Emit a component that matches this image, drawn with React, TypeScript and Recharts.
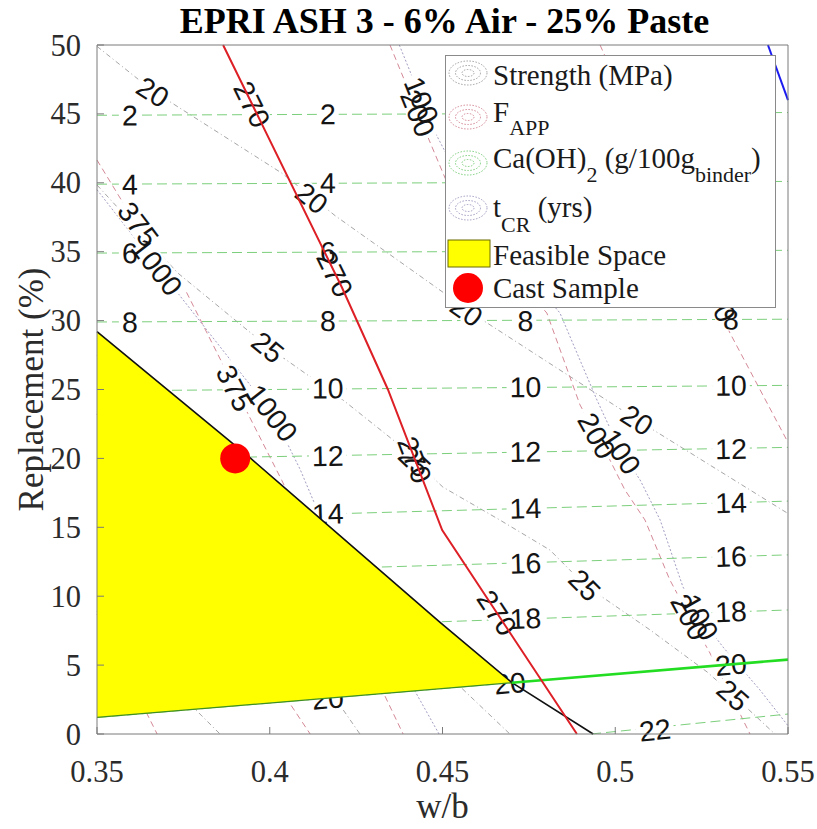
import React from 'react';
import { ComposedChart, Line, Area, Scatter, XAxis, YAxis, Legend } from 'recharts';

type Pt = [number, number];

// ---------------- data ----------------
const xTicks = [0.35, 0.4, 0.45, 0.5, 0.55];
const yTicks = [0, 5, 10, 15, 20, 25, 30, 35, 40, 45, 50];

// Strength (MPa) contours
const strength20: Pt[] = [[0.35, 49.9], [0.366, 46.7], [0.4035, 40.7], [0.419, 37.6], [0.46, 30.3], [0.5063, 22.8], [0.55, 16.0]];
const strength20Labels: Pt[] = [[0.3662, 46.6], [0.4122, 38.9], [0.457, 30.7], [0.5063, 22.8]];
const strength25: Pt[] = [[0.35, 39.84], [0.3734, 33.45], [0.3995, 28.08], [0.4212, 24.24], [0.4357, 21.34], [0.4501, 17.92], [0.4666, 15.53], [0.4811, 13.35], [0.4912, 10.81], [0.5101, 7.55], [0.5266, 4.5], [0.5341, 2.83], [0.5462, 0]];
const strength25Labels: Pt[] = [[0.3995, 28.08], [0.442, 19.8], [0.4912, 10.81], [0.5341, 2.83]];
const strengthLowA: Pt[] = [[0.35, 8.9], [0.3856, 0]];
const strengthLowB: Pt[] = [[0.35, 27.5], [0.4261, 0]];
const strengthLowC: Pt[] = [[0.35, 28.5], [0.4695, 0]];

// F_APP contours
const fapp375: Pt[] = [[0.35, 41.65], [0.3596, 37.7], [0.3746, 32.7], [0.3891, 25.5], [0.4035, 18.4], [0.4386, 0]];
const fapp375Labels: Pt[] = [[0.362, 37.0], [0.3899, 25.1]];
const fapp200: Pt[] = [[0.4348, 50], [0.4449, 43.83], [0.4522, 39.48], [0.4666, 34.4], [0.4802, 30.55], [0.4898, 23.88], [0.497, 20.61], [0.5028, 17.71], [0.5086, 15.53], [0.5158, 11.18], [0.5216, 8.49], [0.5274, 5.88], [0.539, 0]];
const fapp200Labels: Pt[] = [[0.4429, 45.05], [0.4947, 21.65], [0.5216, 8.49]];
const fapp150: Pt[] = [[0.4956, 50], [0.5144, 39.5], [0.5332, 29.1], [0.5497, 21.3]];
const fapp150Labels: Pt[] = [[0.5298, 31.6]];
const fappLowA: Pt[] = [[0.35, 8.7], [0.3674, 0]];
const fappLowB: Pt[] = [[0.35, 23.2], [0.4117, 0]];

// t_CR contours
const tcr1000: Pt[] = [[0.35, 39.5], [0.3674, 33.9], [0.4007, 23.3], [0.4088, 19.2], [0.4174, 14.1], [0.449, 0]];
const tcr1000Labels: Pt[] = [[0.3674, 33.9], [0.4007, 23.3]];
const tcr100: Pt[] = [[0.4375, 50], [0.4475, 43.83], [0.4565, 39.48], [0.471, 34.4], [0.484, 30.55], [0.4947, 24.24], [0.5014, 20.61], [0.5072, 18.43], [0.513, 15.53], [0.5196, 10.67], [0.5245, 8.49], [0.5312, 6.31], [0.5419, 3.19], [0.55, 0.6]];
const tcr100Labels: Pt[] = [[0.444, 46.0], [0.5017, 20.5], [0.5245, 8.49]];

// Ca(OH)2 contours
const ca2: Pt[] = [[0.35, 44.9], [0.55, 45.1]];
const ca4: Pt[] = [[0.35, 39.9], [0.55, 40.1]];
const ca6: Pt[] = [[0.35, 34.9], [0.55, 35.1]];
const ca8: Pt[] = [[0.35, 29.9], [0.55, 30.1]];
const ca10: Pt[] = [[0.35, 24.9], [0.55, 25.3]];
const ca12: Pt[] = [[0.35, 19.9], [0.55, 20.8]];
const ca14: Pt[] = [[0.35, 15.5], [0.55, 16.9]];
const ca16: Pt[] = [[0.35, 11.5], [0.55, 13.0]];
const ca18: Pt[] = [[0.35, 7.3], [0.55, 9.0]];
const ca20: Pt[] = [[0.35, 1.2], [0.55, 5.4]];
const ca22: Pt[] = [[0.493, 0], [0.55, 1.45]];
const ca2Labels: Pt[] = [[0.3595, 44.9], [0.4168, 45.0]];
const ca4Labels: Pt[] = [[0.3595, 39.9], [0.4168, 40.0]];
const ca6Labels: Pt[] = [[0.3595, 34.9], [0.4168, 35.0]];
const ca8Labels: Pt[] = [[0.3595, 29.9], [0.4168, 30.0], [0.474, 30.0], [0.5335, 30.1]];
const ca10Labels: Pt[] = [[0.3595, 25.0], [0.4168, 25.1], [0.474, 25.2], [0.5335, 25.3]];
const ca12Labels: Pt[] = [[0.3595, 20.1], [0.4168, 20.2], [0.474, 20.5], [0.5335, 20.7]];
const ca14Labels: Pt[] = [[0.3595, 15.6], [0.4168, 16.0], [0.474, 16.4], [0.5335, 16.8]];
const ca16Labels: Pt[] = [[0.3595, 11.6], [0.4168, 12.0], [0.474, 12.4], [0.5335, 12.9]];
const ca18Labels: Pt[] = [[0.3595, 7.4], [0.4168, 7.9], [0.474, 8.4], [0.5335, 8.9]];
const ca20Labels: Pt[] = [[0.4168, 2.6], [0.4695, 3.7], [0.5335, 5.05]];
const ca22Labels: Pt[] = [[0.5115, 0.3]];

// highlighted limits
const fappLimit: Pt[] = [[0.3865, 50], [0.4209, 32.4], [0.4342, 25], [0.4499, 14.8], [0.4889, 0]];
const fappLimitLabels: Pt[] = [[0.3949, 45.7], [0.4189, 33.4], [0.442, 19.9], [0.4658, 8.8]];
const blueLimit: Pt[] = [[0.5442, 50], [0.55, 46]];
const upperBoundary: Pt[] = [[0.35, 29.2], [0.3945, 20], [0.4493, 8.1], [0.47, 3.75], [0.4936, 0]];
const caLimitInside: Pt[] = [[0.35, 1.2], [0.47, 3.72]];
const caLimitOutside: Pt[] = [[0.47, 3.72], [0.55, 5.4]];

// feasible space
const feasibleX = [0.35, 0.3945, 0.4493, 0.47];
const feasibleLow = [1.2, 2.13, 3.29, 3.72];
const feasibleHigh = [29.2, 20.0, 8.1, 3.75];

// cast sample
const castSample = [{ x: 0.39, y: 20 }];

// ---------------- layout ----------------
const W = 809;
const H = 821;
const MARGIN = { top: 36, right: 19, bottom: 5, left: 29 };
const X_AXIS_H = 90;
const TOP_AXIS_H = 1;
const Y_AXIS_W = 60;
const RIGHT_AXIS_W = 10;
const PLOT_W = W - MARGIN.left - MARGIN.right - Y_AXIS_W - RIGHT_AXIS_W;
const PLOT_H = H - MARGIN.top - MARGIN.bottom - X_AXIS_H - TOP_AXIS_H;
const X_DOMAIN: [number, number] = [0.35, 0.55];
const Y_DOMAIN: [number, number] = [0, 50];

const SERIF = '"Liberation Serif", "Times New Roman", Times, serif';
const SANS = '"Liberation Sans", Arial, Helvetica, sans-serif';
const AXIS_COLOR = '#7a7a7a';
const TICK_TEXT = '#2b2b2b';
const LABEL_FS = 28.5;

const FAMILY: Record<string, { stroke: string; dash: string }> = {
  strength: { stroke: '#a6a6a6', dash: '5 3 1 3' },
  fapp: { stroke: '#d48896', dash: '6 4' },
  ca: { stroke: '#7ccf7c', dash: '10 5' },
  tcr: { stroke: '#a29dc2', dash: '2 2' },
};

const contourTable = [
  { fam: 'strength', level: '20', line: strength20, labels: strength20Labels },
  { fam: 'strength', level: '25', line: strength25, labels: strength25Labels },
  { fam: 'strength', level: '', line: strengthLowA, labels: [] as Pt[] },
  { fam: 'strength', level: '', line: strengthLowB, labels: [] as Pt[] },
  { fam: 'strength', level: '', line: strengthLowC, labels: [] as Pt[] },
  { fam: 'fapp', level: '375', line: fapp375, labels: fapp375Labels },
  { fam: 'fapp', level: '200', line: fapp200, labels: fapp200Labels },
  { fam: 'fapp', level: '150', line: fapp150, labels: fapp150Labels },
  { fam: 'fapp', level: '', line: fappLowA, labels: [] as Pt[] },
  { fam: 'fapp', level: '', line: fappLowB, labels: [] as Pt[] },
  { fam: 'tcr', level: '1000', line: tcr1000, labels: tcr1000Labels },
  { fam: 'tcr', level: '100', line: tcr100, labels: tcr100Labels },
  { fam: 'ca', level: '2', line: ca2, labels: ca2Labels },
  { fam: 'ca', level: '4', line: ca4, labels: ca4Labels },
  { fam: 'ca', level: '6', line: ca6, labels: ca6Labels },
  { fam: 'ca', level: '8', line: ca8, labels: ca8Labels },
  { fam: 'ca', level: '10', line: ca10, labels: ca10Labels },
  { fam: 'ca', level: '12', line: ca12, labels: ca12Labels },
  { fam: 'ca', level: '14', line: ca14, labels: ca14Labels },
  { fam: 'ca', level: '16', line: ca16, labels: ca16Labels },
  { fam: 'ca', level: '18', line: ca18, labels: ca18Labels },
  { fam: 'ca', level: '20', line: ca20, labels: ca20Labels },
  { fam: 'ca', level: '22', line: ca22, labels: ca22Labels },
  { fam: 'none', level: '270', line: fappLimit, labels: fappLimitLabels },
];

const toRows = (pts: Pt[]) => pts.map(([x, y]) => ({ x, y }));

function labelAngle(line: Pt[], x: number) {
  let i = 0;
  while (i < line.length - 2 && line[i + 1][0] < x) i++;
  const [x0, y0] = line[i];
  const [x1, y1] = line[i + 1];
  const px = ((x1 - x0) / (X_DOMAIN[1] - X_DOMAIN[0])) * PLOT_W;
  const py = -((y1 - y0) / (Y_DOMAIN[1] - Y_DOMAIN[0])) * PLOT_H;
  return (Math.atan2(py, px) * 180) / Math.PI;
}

const labelRows = contourTable.flatMap((c) =>
  c.labels.map(([x, y]) => ({ x, y, text: c.level, angle: labelAngle(c.line, x) }))
);

const feasibleRows = feasibleX.map((x, i) => ({ x, band: [feasibleLow[i], feasibleHigh[i]] }));

// ---------------- shapes ----------------
const LabelHalo = (props: any) => {
  const { cx, cy, payload } = props;
  if (cx == null || cy == null) return <g />;
  const w = payload.text.length * LABEL_FS * 0.556 + 6;
  const h = LABEL_FS * 0.8;
  return (
    <rect x={cx - w / 2} y={cy - h / 2} width={w} height={h} fill="#ffffff"
      transform={`rotate(${payload.angle} ${cx} ${cy})`} />
  );
};

const LabelText = (props: any) => {
  const { cx, cy, payload } = props;
  if (cx == null || cy == null) return <g />;
  return (
    <text x={cx} y={cy} dy="0.36em" textAnchor="middle" fontFamily={SANS} fontSize={LABEL_FS}
      fill="#141414" transform={`rotate(${payload.angle} ${cx} ${cy})`}>
      {payload.text}
    </text>
  );
};

const CastDot = (props: any) => {
  const { cx, cy } = props;
  return <circle cx={cx} cy={cy} r={15} fill="#ff0000" />;
};

const BottomTick = (props: any) => {
  const { x, y, payload } = props;
  return (
    <g>
      <line x1={x} y1={y} x2={x} y2={y - 7} stroke={AXIS_COLOR} />
      <text x={x} y={y + 48} textAnchor="middle" fontFamily={SERIF} fontSize={30.5} fill={TICK_TEXT}>
        {String(payload.value)}
      </text>
    </g>
  );
};
const TopTick = (props: any) => {
  const { x, y } = props;
  return <line x1={x} y1={y} x2={x} y2={y + 7} stroke={AXIS_COLOR} />;
};
const LeftTick = (props: any) => {
  const { x, y, payload } = props;
  return (
    <g>
      <line x1={x} y1={y} x2={x + 7} y2={y} stroke={AXIS_COLOR} />
      <text x={x - 16} y={y + 10.5} textAnchor="end" fontFamily={SERIF} fontSize={30.5} fill={TICK_TEXT}>
        {String(payload.value)}
      </text>
    </g>
  );
};
const RightTick = (props: any) => {
  const { x, y } = props;
  return <line x1={x} y1={y} x2={x - 7} y2={y} stroke={AXIS_COLOR} />;
};

const TitleLabel = (props: any) => {
  const vb = props.viewBox || {};
  return (
    <text x={vb.x + vb.width / 2 + 2} y={vb.y + vb.height - 12} textAnchor="middle" fontFamily={SERIF}
      fontWeight="bold" fontSize={36} fill="#000">
      EPRI ASH 3 - 6% Air - 25% Paste
    </text>
  );
};
const XLabel = (props: any) => {
  const vb = props.viewBox || {};
  return (
    <text x={vb.x + vb.width / 2} y={vb.y + 84} textAnchor="middle" fontFamily={SERIF}
      fontSize={35} fill={TICK_TEXT}>
      w/b
    </text>
  );
};
const YLabel = (props: any) => {
  const vb = props.viewBox || {};
  const x = vb.x + 6;
  const y = vb.y + vb.height / 2;
  return (
    <text x={x} y={y} textAnchor="middle" fontFamily={SERIF} fontSize={35} fill={TICK_TEXT}
      transform={`rotate(-90 ${x} ${y})`}>
      Replacement (%)
    </text>
  );
};

const ContourIcon = ({ cy, color }: { cy: number; color: string }) => (
  <g fill="none" stroke={color} strokeWidth={1} strokeDasharray="1.5 1.5">
    <ellipse cx={23} cy={cy} rx={19} ry={12} />
    <ellipse cx={23} cy={cy} rx={12.5} ry={7.5} />
    <ellipse cx={23} cy={cy} rx={6} ry={3.5} />
  </g>
);

const LegendBox = () => (
  <svg width={332} height={254} style={{ display: 'block' }}>
    <rect x={0.5} y={0.5} width={330} height={252} fill="#ffffff" stroke="#8a8a8a" />
    <g fontFamily={SERIF} fontSize={29} fill="#1a1a1a">
      <ContourIcon cy={18} color="#a0a0a0" />
      <text x={48} y={30}>Strength (MPa)</text>
      <ContourIcon cy={62} color="#d48896" />
      <text x={48} y={67}>
        F<tspan fontSize={22} dy={13}>APP</tspan>
      </text>
      <ContourIcon cy={108} color="#7ccf7c" />
      <text x={48} y={113}>
        Ca(OH)<tspan fontSize={22} dy={14}>2</tspan>
        <tspan dy={-14}> (g/100g</tspan>
        <tspan fontSize={22} dy={14}>binder</tspan>
        <tspan dy={-14}>)</tspan>
      </text>
      <ContourIcon cy={153} color="#a29dc2" />
      <text x={48} y={162}>
        t<tspan fontSize={22} dy={15}>CR</tspan>
        <tspan dy={-15}> (yrs)</tspan>
      </text>
      <rect x={3} y={185} width={42} height={27} fill="#ffff00" stroke="#6b6b00" />
      <text x={48} y={210}>Feasible Space</text>
      <circle cx={23} cy={233} r={15} fill="#ff0000" />
      <text x={48} y={243}>Cast Sample</text>
    </g>
  </svg>
);

// ---------------- chart ----------------
export default function App() {
  return (
    <div style={{ width: W, height: H, paddingLeft: 8, paddingTop: 8 }}>
      <style>{`html, body { margin: 0; padding: 0; overflow: hidden; } .recharts-wrapper, .recharts-surface { overflow: visible !important; }`}</style>
      <ComposedChart width={W} height={H} margin={MARGIN}>
        {contourTable
          .filter((c) => c.fam !== 'none')
          .map((c, i) => (
            <Line
              key={`c${i}`}
              data={toRows(c.line)}
              dataKey="y"
              type="linear"
              stroke={FAMILY[c.fam].stroke}
              strokeWidth={1}
              strokeDasharray={FAMILY[c.fam].dash}
              dot={false}
              activeDot={false}
              legendType="none"
              isAnimationActive={false}
              zIndex={110}
            />
          ))}
        <Scatter data={labelRows} shape={LabelHalo} isAnimationActive={false} legendType="none" zIndex={120} />
        <Scatter data={labelRows} shape={LabelText} isAnimationActive={false} legendType="none" zIndex={130} />
        <Area
          data={feasibleRows}
          dataKey="band"
          type="linear"
          fill="#ffff00"
          fillOpacity={1}
          stroke="none"
          dot={false}
          activeDot={false}
          legendType="none"
          isAnimationActive={false}
          zIndex={140}
        />
        <Line data={toRows(caLimitInside)} dataKey="y" type="linear" stroke="#3f8f22" strokeWidth={1.3}
          dot={false} activeDot={false} legendType="none" isAnimationActive={false} zIndex={150} />
        <Line data={toRows(upperBoundary)} dataKey="y" type="linear" stroke="#111111" strokeWidth={1.6}
          dot={false} activeDot={false} legendType="none" isAnimationActive={false} zIndex={150} />
        <Line data={toRows(caLimitOutside)} dataKey="y" type="linear" stroke="#22dd22" strokeWidth={2.6}
          dot={false} activeDot={false} legendType="none" isAnimationActive={false} zIndex={155} />
        <Line data={toRows(fappLimit)} dataKey="y" type="linear" stroke="#dd1f26" strokeWidth={2}
          dot={false} activeDot={false} legendType="none" isAnimationActive={false} zIndex={160} />
        <Line data={toRows(blueLimit)} dataKey="y" type="linear" stroke="#1c1cf0" strokeWidth={2}
          dot={false} activeDot={false} legendType="none" isAnimationActive={false} zIndex={160} />
        <Scatter data={castSample} shape={CastDot} isAnimationActive={false} legendType="none" zIndex={170} />

        <XAxis
          dataKey="x"
          type="number"
          domain={X_DOMAIN}
          ticks={xTicks}
          interval={0}
          height={X_AXIS_H}
          tickSize={0}
          tickMargin={0}
          tickLine={false}
          tick={BottomTick}
          axisLine={{ stroke: AXIS_COLOR }}
          label={XLabel}
        />
        <XAxis
          xAxisId="top"
          orientation="top"
          dataKey="x"
          type="number"
          domain={X_DOMAIN}
          ticks={xTicks}
          interval={0}
          height={TOP_AXIS_H}
          tickSize={0}
          tickMargin={0}
          tickLine={false}
          tick={TopTick}
          axisLine={{ stroke: AXIS_COLOR }}
          label={TitleLabel}
        />
        <YAxis
          dataKey="y"
          type="number"
          domain={Y_DOMAIN}
          ticks={yTicks}
          interval={0}
          width={Y_AXIS_W}
          tickSize={0}
          tickMargin={0}
          tickLine={false}
          tick={LeftTick}
          axisLine={{ stroke: AXIS_COLOR }}
          label={YLabel}
        />
        <YAxis
          yAxisId="right"
          orientation="right"
          dataKey="y"
          type="number"
          domain={Y_DOMAIN}
          ticks={yTicks}
          interval={0}
          width={RIGHT_AXIS_W}
          tickSize={0}
          tickMargin={0}
          tickLine={false}
          tick={RightTick}
          axisLine={{ stroke: AXIS_COLOR }}
        />
        <Legend
          layout="vertical"
          align="center"
          verticalAlign="middle"
          content={<LegendBox />}
          wrapperStyle={{ left: 437, top: 47, width: 332, height: 254 }}
        />
      </ComposedChart>
    </div>
  );
}
